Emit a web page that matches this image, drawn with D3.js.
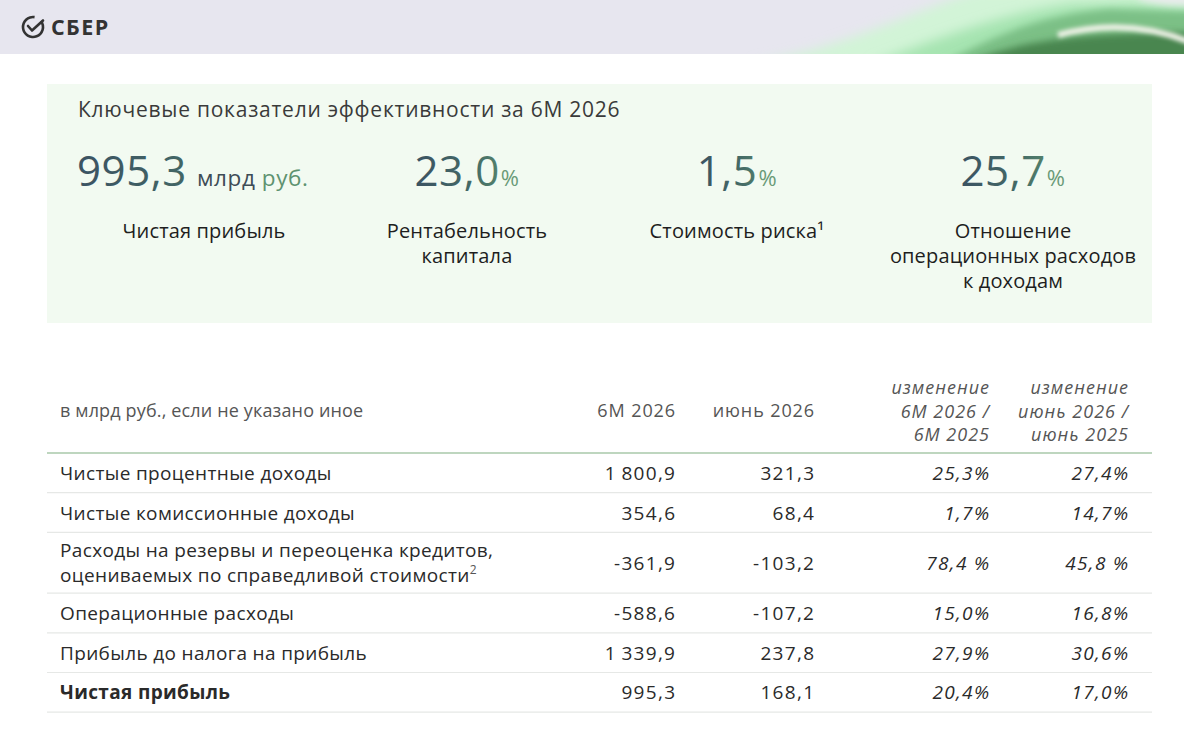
<!DOCTYPE html>
<html>
<head>
<meta charset="utf-8">
<script src="https://cdn.jsdelivr.net/npm/d3@7"></script>
<style>
  html, body { margin: 0; padding: 0; background: #fff; }
  svg { display: block; }
  text { font-family: "Open Sans", "Noto Sans", sans-serif; }
</style>
</head>
<body>
<svg id="slide" width="1184" height="735"></svg>
<script>
// ---- data ----
var kpiTitle = 'Ключевые показатели эффективности за 6М 2026';
var kpiValues = ['995,3', '23,0', '1,5', '25,7'];
var kpiUnits = ['млрд руб.', '%', '%', '%'];
var kpiLabels = [
  ['Чистая прибыль'],
  ['Рентабельность', 'капитала'],
  ['Стоимость риска¹'],
  ['Отношение', 'операционных расходов', 'к доходам']
];

var tableCaption = 'в млрд руб., если не указано иное';
var columnHeads = [
  ['6М 2026'],
  ['июнь 2026'],
  ['изменение', '6М 2026 /', '6М 2025'],
  ['изменение', 'июнь 2026 /', 'июнь 2025']
];
var rowLabels = [
  ['Чистые процентные доходы'],
  ['Чистые комиссионные доходы'],
  ['Расходы на резервы и переоценка кредитов,', 'оцениваемых по справедливой стоимости²'],
  ['Операционные расходы'],
  ['Прибыль до налога на прибыль'],
  ['Чистая прибыль']
];
var values6m   = ['1 800,9', '354,6', '-361,9', '-588,6', '1 339,9', '995,3'];
var valuesJune = ['321,3', '68,4', '-103,2', '-107,2', '237,8', '168,1'];
var change6m   = ['25,3%', '1,7%', '78,4 %', '15,0%', '27,9%', '20,4%'];
var changeJune = ['27,4%', '14,7%', '45,8 %', '16,8%', '30,6%', '17,0%'];

// ---- layout ----
var svg = d3.select('#slide');
var W = 1184;
var defs = svg.append('defs');

function addBlur(id, sd) {
  var f = defs.append('filter').attr('id', id).attr('x', '-30%').attr('y', '-100%')
    .attr('width', '160%').attr('height', '300%');
  f.append('feGaussianBlur').attr('stdDeviation', sd);
}
addBlur('blur7', 6);
addBlur('blur4', 3.5);
addBlur('blur2', 2.2);

var clip = defs.append('clipPath').attr('id', 'band');
clip.append('rect').attr('width', W).attr('height', 54);

// header band with green wave
svg.append('rect').attr('width', W).attr('height', 54).attr('fill', '#e7e6ef');
var wave = svg.append('g').attr('clip-path', 'url(#band)');
wave.append('path').attr('fill', '#d2f4d7').attr('filter', 'url(#blur7)')
  .attr('d', 'M750,64 C840,50 910,12 980,-10 L1200,-10 L1200,64 Z');
wave.append('path').attr('fill', '#a6e4b1').attr('filter', 'url(#blur7)')
  .attr('d', 'M870,64 C930,42 990,16 1070,4 L1200,2 L1200,64 Z');
wave.append('path').attr('fill', '#7bc086').attr('filter', 'url(#blur4)')
  .attr('d', 'M940,64 C990,40 1030,16 1110,9 L1200,12 L1200,64 Z');
wave.append('path').attr('fill', '#4a8650').attr('filter', 'url(#blur4)')
  .attr('d', 'M965,64 C1010,44 1060,33 1200,32 L1200,64 Z');
wave.append('path').attr('fill', 'none').attr('stroke', '#eff2e7').attr('stroke-width', 6)
  .attr('filter', 'url(#blur2)')
  .attr('d', 'M1058,35 C1095,25 1140,22 1190,42');
wave.append('ellipse').attr('cx', 1192).attr('cy', -4).attr('rx', 55).attr('ry', 10)
  .attr('fill', '#e9ecec').attr('filter', 'url(#blur4)');

// logo
var logo = svg.append('g').attr('transform', 'translate(33,27)');
var arc = d3.arc().innerRadius(8.7).outerRadius(11.3).startAngle(Math.PI * 0.3).endAngle(Math.PI * 2.05);
logo.append('path').attr('d', arc()).attr('fill', '#333');
logo.append('path').attr('d', 'M-5,-1 L-1,3.5 L10,-6.5').attr('fill', 'none')
  .attr('stroke', '#333').attr('stroke-width', 2.6).attr('stroke-linecap', 'round').attr('stroke-linejoin', 'round');
svg.append('text').attr('x', 51).attr('y', 35).attr('font-size', 21.5).attr('font-weight', 700)
  .attr('fill', '#333').attr('letter-spacing', 1.4).text('СБЕР');

// KPI panel
svg.append('rect').attr('x', 47).attr('y', 84).attr('width', 1105).attr('height', 239).attr('fill', '#f2faf1');
svg.append('text').attr('x', 78).attr('y', 117).attr('font-size', 21).attr('fill', '#3a3a3a')
  .attr('letter-spacing', 0.75).text(kpiTitle);

var grad = defs.append('linearGradient').attr('id', 'numGrad').attr('x1', 0).attr('x2', 1);
grad.append('stop').attr('offset', '0%').attr('stop-color', '#3b5262');
grad.append('stop').attr('offset', '55%').attr('stop-color', '#446a66');
grad.append('stop').attr('offset', '100%').attr('stop-color', '#5e9270');

var kpiCenters = [204, 467, 737, 1013];

kpiValues.forEach(function(v, i) {
  var t = svg.append('text').attr('y', 186).attr('font-size', 42).attr('font-weight', 400)
    .attr('letter-spacing', 0.6);
  if (i === 0) {
    t.attr('x', 77).attr('text-anchor', 'start');
  } else {
    t.attr('x', kpiCenters[i]).attr('text-anchor', 'middle');
  }
  t.append('tspan').attr('fill', 'url(#numGrad)').text(v);
  if (kpiUnits[i] === '%') {
    t.append('tspan').attr('font-size', 22).attr('fill', '#6a9b78').attr('dx', 1).text('%');
  } else {
    var parts = kpiUnits[i].split(' ');
    t.append('tspan').attr('font-size', 22.5).attr('fill', '#3e4c56').attr('dx', 10).text(parts[0] + ' ');
    t.append('tspan').attr('font-size', 22.5).attr('fill', '#5e9270').text(parts[1]);
  }
  kpiLabels[i].forEach(function(line, j) {
    svg.append('text').attr('x', kpiCenters[i]).attr('y', 238 + j * 25)
      .attr('text-anchor', 'middle').attr('font-size', 20).attr('letter-spacing', 0.15)
      .attr('fill', '#1e1e1e').text(line);
  });
});

// table
var colRight = [675, 814, 989, 1128];
var tableLeft = 47, tableRight = 1152, textLeft = 60;

svg.append('text').attr('x', textLeft).attr('y', 417).attr('font-size', 18).attr('fill', '#555')
  .attr('letter-spacing', 0.15).text(tableCaption);
columnHeads.forEach(function(lines, i) {
  var italic = lines.length > 1;
  var y0 = italic ? 394 : 417;
  lines.forEach(function(line, j) {
    svg.append('text').attr('x', colRight[i] + 1).attr('y', y0 + j * 23.5).attr('text-anchor', 'end')
      .attr('font-size', 18).attr('fill', '#555').attr('font-style', italic ? 'italic' : 'normal')
      .attr('letter-spacing', italic ? 1.0 : 0.9)
      .text(line);
  });
});
svg.append('line').attr('x1', tableLeft).attr('x2', tableRight).attr('y1', 453).attr('y2', 453)
  .attr('stroke', '#a9c9aa').attr('stroke-width', 1.5);

// row extents from number of label lines
var lineH = 21, rowPad = 18.7;
var edges = [453];
rowLabels.forEach(function(l) { edges.push(edges[edges.length - 1] + rowPad + lineH * l.length); });

var cols = [values6m, valuesJune, change6m, changeJune];
rowLabels.forEach(function(lines, r) {
  var top = edges[r], bottom = edges[r + 1];
  var mid = (top + bottom) / 2;
  var bold = r === rowLabels.length - 1;
  var g = svg.append('g');
  g.append('line').attr('x1', tableLeft).attr('x2', tableRight).attr('y1', bottom).attr('y2', bottom)
    .attr('stroke', '#e6e8e6').attr('stroke-width', 1.2);
  lines.forEach(function(line, j) {
    var t = g.append('text').attr('x', textLeft)
      .attr('y', mid + 7 + (j - (lines.length - 1) / 2) * 25)
      .attr('font-size', 19).attr('fill', '#2a2a2a').attr('font-weight', bold ? 700 : 400)
      .attr('letter-spacing', 0.35);
    var m = line.match(/^(.*?)([¹²])$/);
    if (m) {
      t.append('tspan').text(m[1]);
      t.append('tspan').attr('font-size', 12).attr('dy', -8).attr('fill', '#555')
        .text(m[2] === '²' ? '2' : '1');
    } else {
      t.text(line);
    }
  });
  cols.forEach(function(col, c) {
    g.append('text').attr('x', colRight[c] + 1.3).attr('y', mid + 7).attr('text-anchor', 'end')
      .attr('font-size', 19).attr('fill', '#2a2a2a')
      .attr('font-style', c >= 2 ? 'italic' : 'normal')
      .attr('letter-spacing', 1.3)
      .text(c < 2 ? col[r].replace(' ', '\u2009') : col[r]);
  });
});
</script>
</body>
</html>
